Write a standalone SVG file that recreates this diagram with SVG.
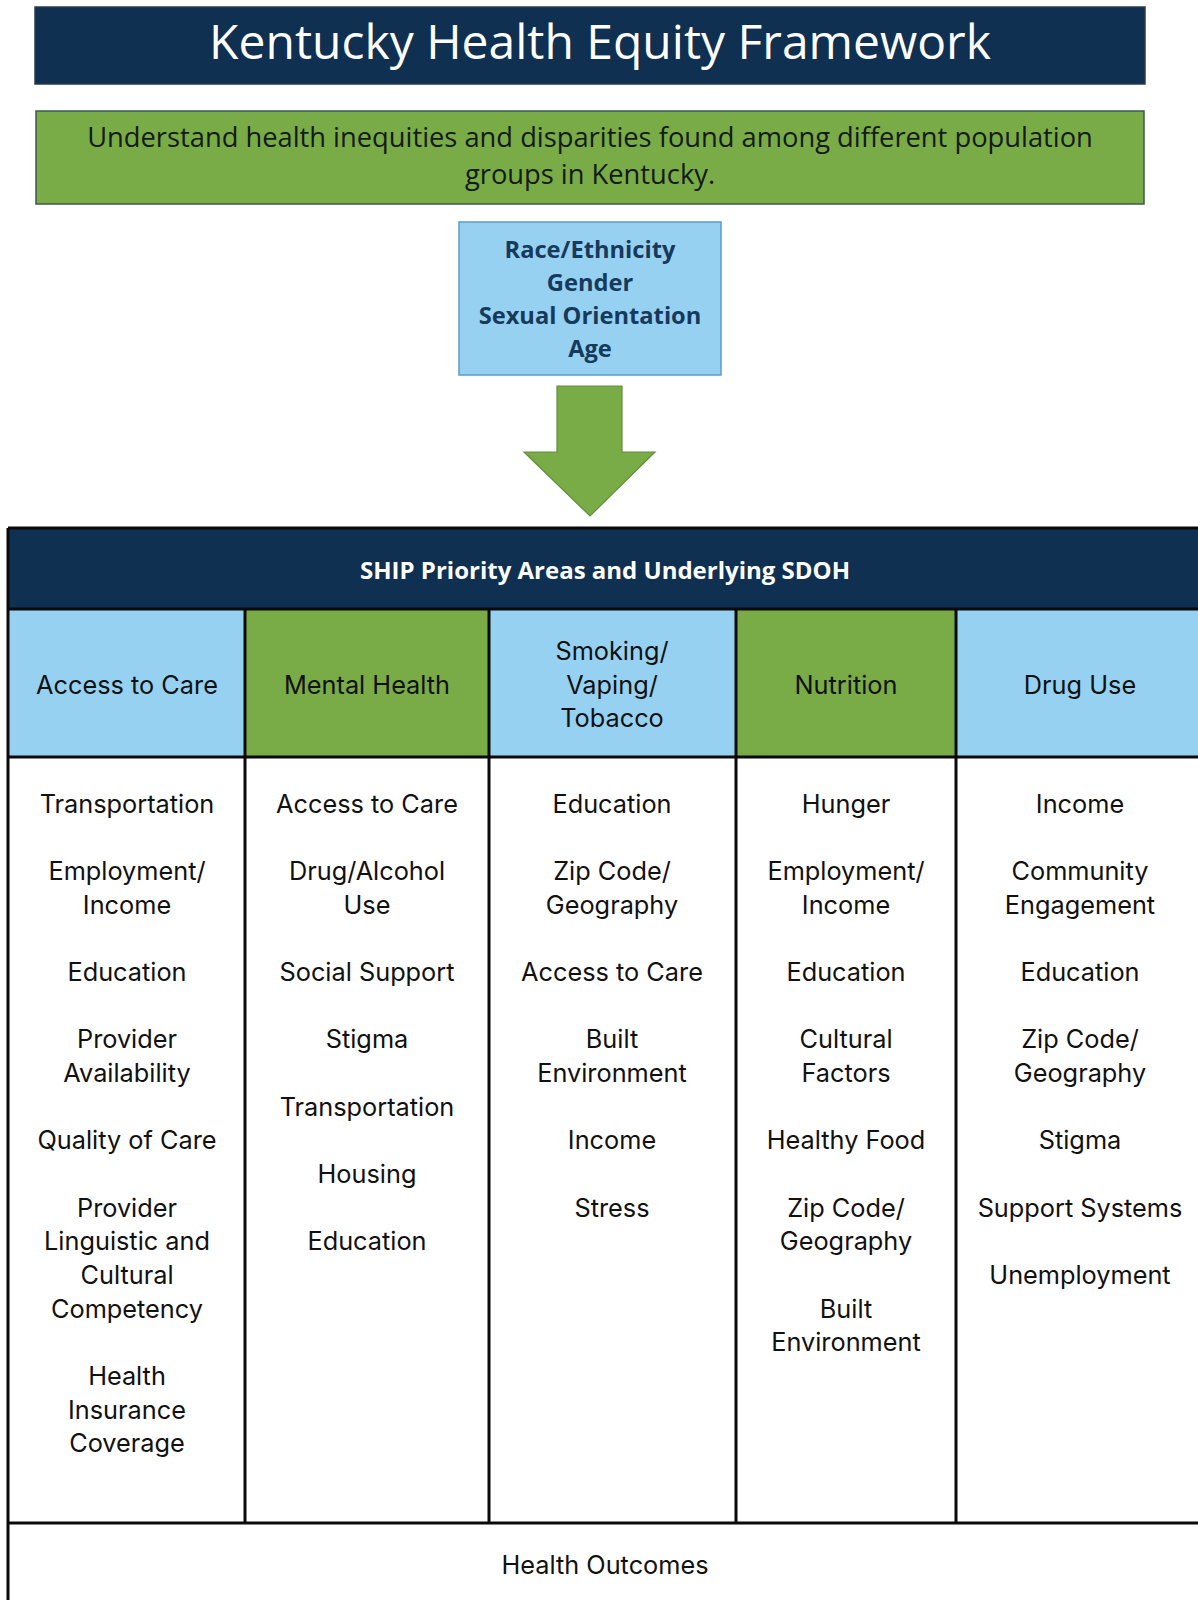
<svg xmlns="http://www.w3.org/2000/svg" width="1198" height="1600" viewBox="0 0 1198 1600">
  <style>
    .title { font-family: "Open Sans", "Noto Sans", sans-serif; font-size: 48px; fill: #ffffff; text-anchor: middle; }
    .sub { font-family: "Open Sans", "Noto Sans", sans-serif; font-size: 27.3px; fill: #141a14; text-anchor: middle; }
    .demo { font-family: "Open Sans", "Noto Sans", sans-serif; font-size: 23.7px; font-weight: bold; fill: #163a5c; text-anchor: middle; }
    .ship { font-family: "Open Sans", "Noto Sans", sans-serif; font-size: 24px; font-weight: bold; fill: #ffffff; text-anchor: middle; }
    .cell { font-family: "Inter", "Lato", sans-serif; font-size: 25.3px; fill: #111111; text-anchor: middle; }
    .grid { stroke: #0a0a0a; stroke-width: 3; fill: none; }
  </style>

  <rect width="1198" height="1600" fill="#ffffff"/>

  <!-- Title banner -->
  <g id="title">
    <rect x="35" y="7" width="1110" height="77" fill="#0f3050" stroke="#2b3b4a" stroke-width="1.5"/>
    <text class="title" x="600" y="59">Kentucky Health Equity Framework</text>
  </g>

  <!-- Purpose statement -->
  <g id="purpose">
    <rect x="36" y="111" width="1108" height="93" fill="#79ab47" stroke="#3b5a4e" stroke-width="1.5"/>
    <text class="sub" x="590" y="147">Understand health inequities and disparities found among different population</text>
    <text class="sub" x="590" y="184">groups in Kentucky.</text>
  </g>

  <!-- Population groups -->
  <g id="populations">
    <rect x="459" y="222" width="262" height="153" fill="#96d1f2" stroke="#5b9cc8" stroke-width="1.5"/>
    <text class="demo" x="590" y="258">Race/Ethnicity</text>
    <text class="demo" x="590" y="291">Gender</text>
    <text class="demo" x="590" y="324">Sexual Orientation</text>
    <text class="demo" x="590" y="357">Age</text>
  </g>

  <!-- Flow arrow into the table -->
  <g id="connectors">
    <path d="M557 386 H622 V452 H655 L590 516 L524 452 H557 Z" fill="#79ab47" stroke="#5f8f3a" stroke-width="1.2"/>
  </g>

  <!-- SHIP priority table -->
  <g id="ship-table">
    <rect x="8" y="528" width="1200" height="81" fill="#0f3050"/>
    <text class="ship" x="605" y="579">SHIP Priority Areas and Underlying SDOH</text>

    <!-- priority header cells -->
    <rect x="8" y="609" width="237" height="148" fill="#96d1f2"/>
    <rect x="245" y="609" width="244" height="148" fill="#79ab47"/>
    <rect x="489" y="609" width="247" height="148" fill="#96d1f2"/>
    <rect x="736" y="609" width="220" height="148" fill="#79ab47"/>
    <rect x="956" y="609" width="250" height="148" fill="#96d1f2"/>

    <!-- grid lines -->
    <path class="grid" d="M8 528 H1200 M8 609 H1200 M8 757 H1200 M8 1523 H1200"/>
    <path class="grid" d="M8 528 V1600 M245 609 V1523 M489 609 V1523 M736 609 V1523 M956 609 V1523"/>
  </g>

  <g id="col-access">
    <text class="cell" x="127" y="694">Access to Care</text>
    <text class="cell" x="127" y="813">Transportation</text>
    <text class="cell" x="127" y="880">Employment/</text>
    <text class="cell" x="127" y="914">Income</text>
    <text class="cell" x="127" y="981">Education</text>
    <text class="cell" x="127" y="1048">Provider</text>
    <text class="cell" x="127" y="1082">Availability</text>
    <text class="cell" x="127" y="1149">Quality of Care</text>
    <text class="cell" x="127" y="1217">Provider</text>
    <text class="cell" x="127" y="1250">Linguistic and</text>
    <text class="cell" x="127" y="1284">Cultural</text>
    <text class="cell" x="127" y="1318">Competency</text>
    <text class="cell" x="127" y="1385">Health</text>
    <text class="cell" x="127" y="1419">Insurance</text>
    <text class="cell" x="127" y="1452">Coverage</text>
  </g>

  <g id="col-mental">
    <text class="cell" x="367" y="694">Mental Health</text>
    <text class="cell" x="367" y="813">Access to Care</text>
    <text class="cell" x="367" y="880">Drug/Alcohol</text>
    <text class="cell" x="367" y="914">Use</text>
    <text class="cell" x="367" y="981">Social Support</text>
    <text class="cell" x="367" y="1048">Stigma</text>
    <text class="cell" x="367" y="1116">Transportation</text>
    <text class="cell" x="367" y="1183">Housing</text>
    <text class="cell" x="367" y="1250">Education</text>
  </g>

  <g id="col-smoking">
    <text class="cell" x="612" y="660">Smoking/</text>
    <text class="cell" x="612" y="694">Vaping/</text>
    <text class="cell" x="612" y="727">Tobacco</text>
    <text class="cell" x="612" y="813">Education</text>
    <text class="cell" x="612" y="880">Zip Code/</text>
    <text class="cell" x="612" y="914">Geography</text>
    <text class="cell" x="612" y="981">Access to Care</text>
    <text class="cell" x="612" y="1048">Built</text>
    <text class="cell" x="612" y="1082">Environment</text>
    <text class="cell" x="612" y="1149">Income</text>
    <text class="cell" x="612" y="1217">Stress</text>
  </g>

  <g id="col-nutrition">
    <text class="cell" x="846" y="694">Nutrition</text>
    <text class="cell" x="846" y="813">Hunger</text>
    <text class="cell" x="846" y="880">Employment/</text>
    <text class="cell" x="846" y="914">Income</text>
    <text class="cell" x="846" y="981">Education</text>
    <text class="cell" x="846" y="1048">Cultural</text>
    <text class="cell" x="846" y="1082">Factors</text>
    <text class="cell" x="846" y="1149">Healthy Food</text>
    <text class="cell" x="846" y="1217">Zip Code/</text>
    <text class="cell" x="846" y="1250">Geography</text>
    <text class="cell" x="846" y="1318">Built</text>
    <text class="cell" x="846" y="1351">Environment</text>
  </g>

  <g id="col-drug">
    <text class="cell" x="1080" y="694">Drug Use</text>
    <text class="cell" x="1080" y="813">Income</text>
    <text class="cell" x="1080" y="880">Community</text>
    <text class="cell" x="1080" y="914">Engagement</text>
    <text class="cell" x="1080" y="981">Education</text>
    <text class="cell" x="1080" y="1048">Zip Code/</text>
    <text class="cell" x="1080" y="1082">Geography</text>
    <text class="cell" x="1080" y="1149">Stigma</text>
    <text class="cell" x="1080" y="1217">Support Systems</text>
    <text class="cell" x="1080" y="1284">Unemployment</text>
  </g>

  <g id="outcomes">
    <text class="cell" x="605" y="1574">Health Outcomes</text>
  </g>
</svg>
